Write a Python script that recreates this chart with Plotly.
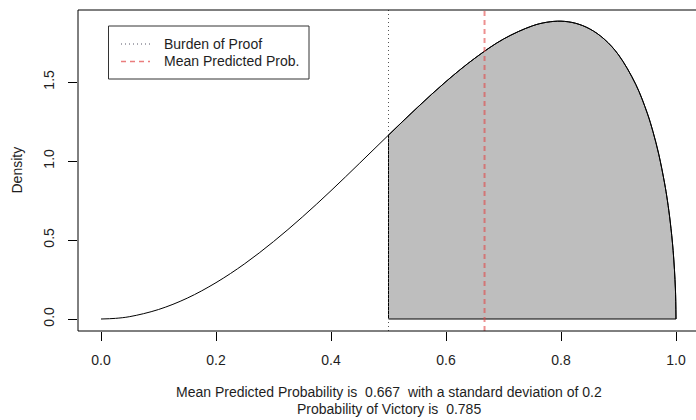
import plotly.graph_objects as go

# Density of the predicted probability of victory (sampled along the curve)
grid_x = [0.0, 0.025, 0.05, 0.1, 0.15, 0.2, 0.25, 0.3, 0.35, 0.4, 0.45, 0.5,
          0.55, 0.6, 0.65, 0.7, 0.75, 0.775, 0.8, 0.825, 0.85, 0.875, 0.9,
          0.93, 0.95, 0.96, 0.97, 0.98, 0.985, 0.99, 0.995, 0.999, 1.0]
density = [0.0, 0.004, 0.015, 0.060, 0.132, 0.230, 0.350, 0.490, 0.645, 0.812,
           0.987, 1.164, 1.338, 1.503, 1.650, 1.772, 1.855, 1.878, 1.885, 1.872,
           1.836, 1.772, 1.672, 1.485, 1.303, 1.185, 1.043, 0.862, 0.751, 0.614,
           0.433, 0.190, 0.0]

burden_of_proof = 0.5
mean_prob = 0.667
sd_prob = 0.2
prob_victory = 0.785

x_ticks = [0.0, 0.2, 0.4, 0.6, 0.8, 1.0]
y_ticks = [0.0, 0.5, 1.0, 1.5]

legend_labels = ["Burden of Proof", "Mean Predicted Prob."]

FONT = "Liberation Sans, Arial, Helvetica, sans-serif"
TXT = "#1e1e1e"

W, H = 696, 420
L, T, R_EDGE, B_EDGE = 78, 10, 696, 331
PW, PH = R_EDGE - L, B_EDGE - T


def px_x(p):
    return (p - L) / PW


def px_y(p):
    return (B_EDGE - p) / PH


fig = go.Figure()

# shaded area: probability mass above the burden of proof
shade_x = [x for x in grid_x if x >= burden_of_proof]
shade_y = [d for x, d in zip(grid_x, density) if x >= burden_of_proof]
fig.add_trace(go.Scatter(
    x=shade_x, y=shade_y, mode="lines", fill="tozeroy",
    fillcolor="#BEBEBE", line=dict(color="black", width=1, shape="spline"),
    hoverinfo="skip", showlegend=False))
# left edge and base of the shaded polygon
fig.add_trace(go.Scatter(
    x=[shade_x[0], shade_x[0], shade_x[-1], shade_x[-1]],
    y=[shade_y[0], 0, 0, shade_y[-1]], mode="lines",
    line=dict(color="black", width=1), hoverinfo="skip", showlegend=False))

# full density curve
fig.add_trace(go.Scatter(
    x=grid_x, y=density, mode="lines",
    line=dict(color="black", width=1, shape="spline"),
    showlegend=False))

# reference lines
fig.add_shape(type="line", xref="x", yref="paper",
              x0=burden_of_proof, x1=burden_of_proof, y0=0, y1=1,
              line=dict(color="#555555", width=1, dash="1px,3px"))
fig.add_shape(type="line", xref="x", yref="paper",
              x0=mean_prob, x1=mean_prob, y0=0, y1=1,
              line=dict(color="rgba(225,70,70,0.6)", width=2, dash="5px,4px"))

# plot frame (left, top, bottom)
fig.add_shape(type="path", xref="paper", yref="paper",
              path="M 1,1 L 0,1 L 0,0 L 1,0",
              line=dict(color="black", width=1))

# legend box
lg_l, lg_r, lg_t, lg_b = 108.5, 309, 26, 79
fig.add_shape(type="rect", xref="paper", yref="paper",
              x0=px_x(lg_l), x1=px_x(lg_r), y0=px_y(lg_b), y1=px_y(lg_t),
              line=dict(color="#333333", width=1), fillcolor="white")
entry_y = [44, 61.5]
entry_styles = [dict(color="#555566", width=1, dash="1px,3px"),
                dict(color="rgba(225,70,70,0.7)", width=1.5, dash="5px,4px")]
for yy, lab, sty in zip(entry_y, legend_labels, entry_styles):
    fig.add_shape(type="line", xref="paper", yref="paper",
                  x0=px_x(121), x1=px_x(150), y0=px_y(yy), y1=px_y(yy),
                  line=sty)
    fig.add_annotation(x=px_x(162), y=px_y(yy), xref="paper", yref="paper",
                       text=lab, showarrow=False, xanchor="left",
                       yanchor="middle", font=dict(size=14, color=TXT, family=FONT))

# y axis title
fig.add_annotation(x=px_x(16), y=0.5, xref="paper", yref="paper",
                   text="Density", textangle=-90, showarrow=False,
                   xanchor="center", yanchor="middle",
                   font=dict(size=14, color=TXT, family=FONT))

# summary lines under the axis
fig.add_annotation(
    x=0.5, y=px_y(392), xref="x", yref="paper",
    text=f"Mean Predicted Probability is  {mean_prob}  with a standard deviation of {sd_prob}",
    showarrow=False, xanchor="center", yanchor="middle",
    font=dict(size=14, color=TXT, family=FONT))
fig.add_annotation(
    x=0.5, y=px_y(409), xref="x", yref="paper",
    text=f"Probability of Victory is  {prob_victory}",
    showarrow=False, xanchor="center", yanchor="middle",
    font=dict(size=14, color=TXT, family=FONT))

x_lo = -0.04
x_hi = x_lo + PW / 575.0
y_lo = -12.0 / 158.0
y_hi = y_lo + PH / 158.0

fig.update_layout(
    width=W, height=H,
    margin=dict(l=L, r=W - R_EDGE, t=T, b=H - B_EDGE),
    plot_bgcolor="white", paper_bgcolor="white",
    font=dict(family=FONT, size=14, color=TXT),
    showlegend=False,
    xaxis=dict(range=[x_lo, x_hi], tickvals=x_ticks,
               ticktext=[f"{v:.1f}" for v in x_ticks],
               ticks="outside", ticklen=9, tickcolor="black", tickwidth=1,
               showgrid=False, zeroline=False, showline=False,
               ticklabelstandoff=7),
    yaxis=dict(range=[y_lo, y_hi], tickvals=y_ticks,
               ticktext=[f"{v:.1f}" for v in y_ticks],
               ticks="outside", ticklen=9, tickcolor="black", tickwidth=1,
               tickangle=-90, showgrid=False, zeroline=False, showline=False,
               ticklabelstandoff=8),
)

fig.write_html("out.html")
